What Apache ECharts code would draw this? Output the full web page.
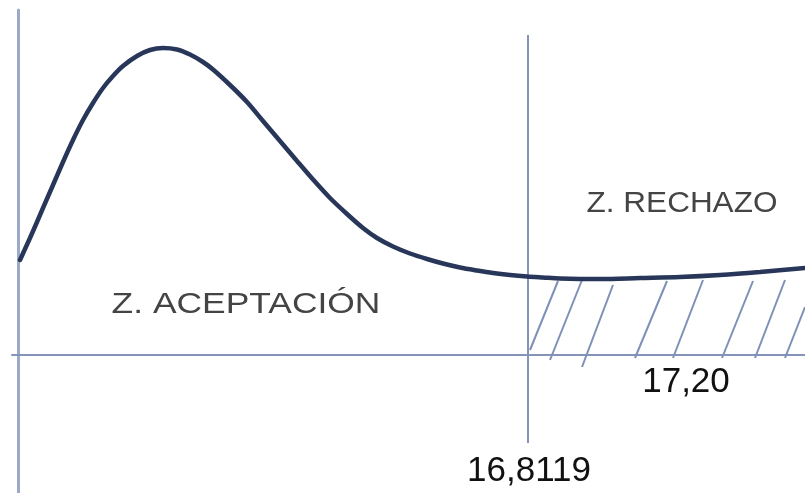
<!DOCTYPE html>
<html>
<head>
<meta charset="utf-8">
<script src="https://cdn.jsdelivr.net/npm/echarts@6/dist/echarts.min.js"></script>
<style>
html,body{margin:0;padding:0;background:#fff;}
#chart{width:805px;height:493px;}
</style>
</head>
<body>
<div id="chart"></div>
<script>
// Curve (data units: horizontal axis at y = 0, vertical axis at x = 0)
const curveX = [2,12,19,25,35,45,55,65,75,85,95,105,119,132,145,159,172,185,195,212,229,245,262,279,295,312,329,345,359,375,392,409,425,442,459,475,492,509,525,542,582,622,662,702,742,787];
const curveY = [95,117,133,147,170,193,215,235,252,267,279,289,299,305,307,305.5,300.5,293,285.5,270,253,234,214,194,175.5,157,141,127,117,108.5,101.5,96,91.5,87.5,84.5,82,80,78.5,77.5,76.5,76,77,78,80,83,87];

// Critical value line
const criticalX = 510;
const criticalYTop = 320;
const criticalYBottom = -88;

// Hatching strokes in the rejection zone (start / end points)
const hatchX0 = [512,532,564,617,655,704,737,767];
const hatchY0 = [5,-5,-12,-3,-3,-3,-3,-3];
const hatchX1 = [540,564,595,649,685,735,767,787];
const hatchY1 = [74,75,70,74,75,74,75,48];

// Text labels
const labelTexts = ['Z. ACEPTACIÓN', 'Z. RECHAZO', '17,20', '16,8119'];
const labelX = [228, 664, 668, 511];
const labelY = [50, 151, -27, -116];

const axisColor = '#8494b6';
const chart = echarts.init(document.getElementById('chart'), null, {renderer: 'canvas'});

const series = [];
hatchX0.forEach((x0, i) => {
  series.push({
    type: 'line', silent: true, symbol: 'none', clip: true, z: 2,
    lineStyle: {color: '#7f90b8', width: 2},
    data: [[x0, hatchY0[i]], [hatchX1[i], hatchY1[i]]]
  });
});
series.push({
  type: 'line', silent: true, symbol: 'none', z: 3,
  lineStyle: {color: axisColor, width: 2},
  data: [[criticalX, criticalYTop], [criticalX, criticalYBottom]]
});
series.push({
  type: 'line', silent: true, symbol: 'none', smooth: 0.3, z: 5,
  lineStyle: {color: '#283759', width: 4.5, cap: 'round'},
  data: curveX.map((x, i) => [x, curveY[i]])
});

chart.setOption({
  animation: false,
  backgroundColor: '#ffffff',
  grid: {left: 12, right: 0, top: 10, bottom: 0, containLabel: false},
  xAxis: {
    type: 'value', min: -6, max: 787,
    axisLine: {show: true, onZero: true, lineStyle: {color: axisColor, width: 2}},
    axisTick: {show: false}, axisLabel: {show: false}, splitLine: {show: false}
  },
  yAxis: {
    type: 'value', min: -138, max: 345,
    axisLine: {show: true, onZero: true, lineStyle: {color: '#9aaac8', width: 3}},
    axisTick: {show: false}, axisLabel: {show: false}, splitLine: {show: false}
  },
  series: series
});

const labelStyles = [
  {font: '30px "Liberation Sans"', fill: '#444444', scaleX: 1.18},
  {font: '30px "Liberation Sans"', fill: '#444444', scaleX: 1.05},
  {font: '35px "Liberation Sans"', fill: '#111111', scaleX: 1.0},
  {font: '35px "Liberation Sans"', fill: '#111111', scaleX: 1.0}
];
const graphics = labelTexts.map((t, i) => {
  const p = chart.convertToPixel({gridIndex: 0}, [labelX[i], labelY[i]]);
  return {
    type: 'text', x: p[0], y: p[1], scaleX: labelStyles[i].scaleX, z: 10,
    style: {text: t, x: 0, y: 0, align: 'center', verticalAlign: 'middle',
      font: labelStyles[i].font, fill: labelStyles[i].fill}
  };
});
chart.setOption({graphic: graphics});
</script>
</body>
</html>
